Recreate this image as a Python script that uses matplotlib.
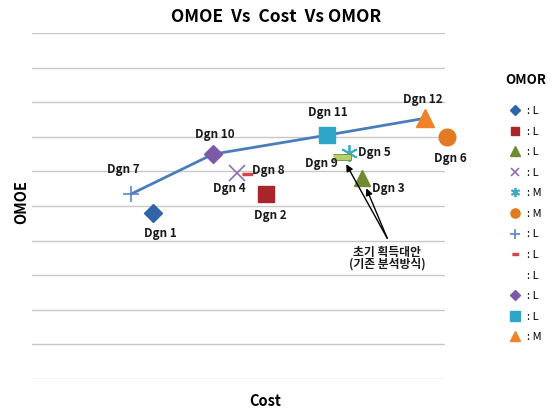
import matplotlib
matplotlib.use("Agg")
import matplotlib.pyplot as plt
import numpy as np

plt.rcParams["font.family"] = ["Noto Sans CJK KR", "DejaVu Sans"]

# design points (cost, OMOE) on a 0-10 scale, OMOR class per design
designs = ["Dgn 1", "Dgn 2", "Dgn 3", "Dgn 4", "Dgn 5", "Dgn 6",
           "Dgn 7", "Dgn 8", "Dgn 9", "Dgn 10", "Dgn 11", "Dgn 12"]
cost = [2.93, 5.67, 7.99, 4.96, 7.68, 10.05, 2.40, 5.21, 7.51, 4.38, 7.14, 9.52]
omoe = [4.80, 5.35, 5.81, 5.95, 6.53, 6.99, 5.35, 5.92, 6.42, 6.50, 7.05, 7.54]
omor = ["L", "L", "L", "L", "M", "M", "L", "L", "L", "L", "L", "M"]

# non-dominated front
front = ["Dgn 7", "Dgn 10", "Dgn 11", "Dgn 12"]

rect = [(-1, -0.3), (1, -0.3), (1, 0.3), (-1, 0.3)]
styles = {
    "Dgn 1": dict(marker="D", color="#2F64A8", ms=9),
    "Dgn 2": dict(marker="s", color="#A8262A", ms=11),
    "Dgn 3": dict(marker="^", color="#6F8C32", ms=12),
    "Dgn 4": dict(marker="x", color="#8A72B0", ms=11, mew=1.2),
    "Dgn 5": dict(marker=(6, 2, 0), color="#3FA9C6", ms=12, mew=1.3),
    "Dgn 6": dict(marker="o", color="#E07B22", ms=12),
    "Dgn 7": dict(marker="+", color="#5B86C5", ms=12, mew=1.2),
    "Dgn 8": dict(marker=rect, color="#D2454A", ms=7),
    "Dgn 9": dict(marker=rect, color="#B5CF6A", ms=13, mec="#6E8B2E", mew=0.6),
    "Dgn 10": dict(marker="D", color="#7B5BA8", ms=9),
    "Dgn 11": dict(marker="s", color="#2FA6C8", ms=12),
    "Dgn 12": dict(marker="^", color="#F0832A", ms=13),
}
legend_hidden = {"Dgn 9"}

# label offsets in pixels
offsets = {
    "Dgn 1": (7, -21), "Dgn 2": (4, -22), "Dgn 3": (26, -10), "Dgn 4": (-8, -15),
    "Dgn 5": (25, 1), "Dgn 6": (3, -21), "Dgn 7": (-8, 24), "Dgn 8": (21, 4),
    "Dgn 9": (-21, -7), "Dgn 10": (2, 20), "Dgn 11": (1, 23), "Dgn 12": (-2, 19),
}

fig = plt.figure(figsize=(5.57, 4.09), dpi=100)
ax = fig.add_axes([0.0575, 0.0733, 0.7415, 0.8457])
ax.set_xlim(0, 10)
ax.set_ylim(0, 10)
for s in ax.spines.values():
    s.set_visible(False)
ax.set_xticks([])
ax.set_yticks(np.arange(0, 11))
ax.tick_params(left=False, labelleft=False)
ax.yaxis.grid(True, color="#C8C8C8", lw=1)
ax.set_axisbelow(True)

pos = {d: (x, y) for d, x, y in zip(designs, cost, omoe)}
fx = [pos[d][0] for d in front]
fy = [pos[d][1] for d in front]
ax.plot(fx, fy, color="#4A7EBB", lw=2, zorder=2)

handles = []
for d, x, y, r in zip(designs, cost, omoe, omor):
    st = dict(styles[d])
    ms = st.pop("ms")
    color = st.pop("color")
    mec = st.pop("mec", color)
    (h,) = ax.plot([x], [y], linestyle="none", ms=ms, mfc=color, mec=mec,
                   clip_on=False, zorder=3, **st)
    handles.append(h)
    ax.annotate(d, (x, y), xytext=offsets[d], textcoords="offset pixels",
                ha="center", va="center", fontsize=8.5, fontweight="bold",
                color="#1A1A1A", zorder=4, annotation_clip=False)

# legend
leg_handles = []
for d, h in zip(designs, handles):
    if d in legend_hidden:
        (lh,) = ax.plot([], [], linestyle="none", marker="s", ms=6,
                        mfc="white", mec="white")
        leg_handles.append(lh)
    else:
        leg_handles.append(h)
ax.legend(leg_handles, [": " + r for r in omor], loc="upper left",
          bbox_to_anchor=(0.897, 0.765), bbox_transform=fig.transFigure,
          frameon=False, markerscale=0.55, fontsize=8,
          labelspacing=0.95, handlelength=1.0, handletextpad=0.6)
fig.text(0.943, 0.804, "OMOR", ha="center", va="center", fontsize=9.5,
         fontweight="bold")

# annotation of baseline alternatives
ax.text(8.6, 3.5, "초기 획득대안\n(기존 분석방식)", ha="center", va="center",
        fontsize=8.5, linespacing=0.85, color="#1A1A1A", fontweight="bold")
tail = (8.6, 4.07)
for d, shrink in [("Dgn 9", 6), ("Dgn 3", 8)]:
    ax.annotate("", xy=pos[d], xytext=tail,
                arrowprops=dict(arrowstyle="-|>", color="black", lw=1,
                                shrinkA=0, shrinkB=shrink, mutation_scale=10))

fig.text(0.496, 0.958, "OMOE  Vs  Cost  Vs OMOR", ha="center", va="center",
         fontsize=12.5, fontweight="bold")
fig.text(0.476, 0.02, "Cost", ha="center", va="center", fontsize=10.5,
         fontweight="bold")
fig.text(0.038, 0.506, "OMOE", ha="center", va="center", rotation=90,
         fontsize=10.5, fontweight="bold")

fig.savefig("out.png", dpi=100, facecolor="white")
